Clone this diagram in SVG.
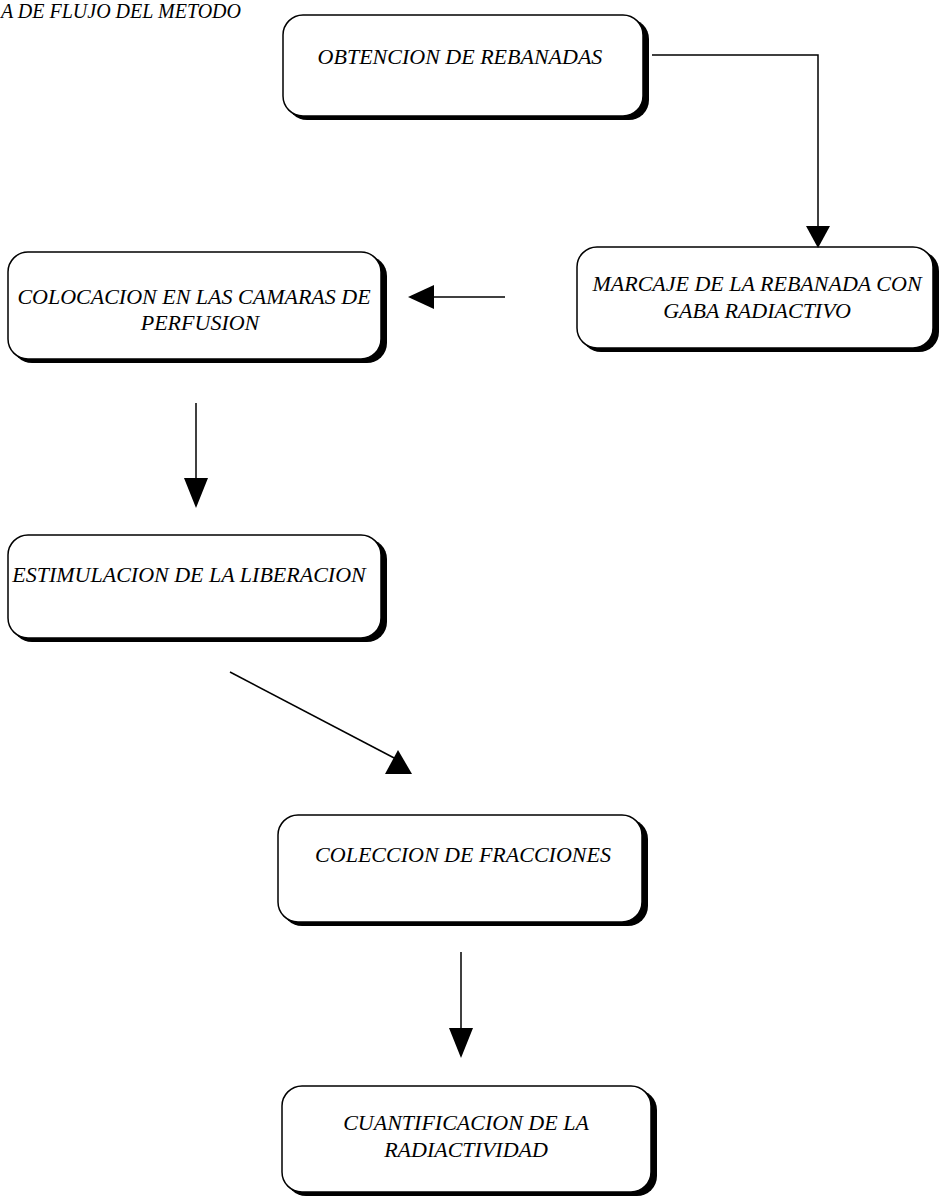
<svg xmlns="http://www.w3.org/2000/svg" width="942" height="1198" viewBox="0 0 942 1198">
<defs>
<style>
.shadow{fill:#000;}
.box{fill:#fff;stroke:#000;stroke-width:1.5;}
.lbl{font-family:"Liberation Serif",serif;font-style:italic;font-size:22px;fill:#000;text-anchor:middle;}
.title{font-family:"Liberation Serif",serif;font-style:italic;font-size:20px;fill:#000;}
.conn{fill:none;stroke:#000;stroke-width:1.5;}
.head{fill:#000;}
</style>
</defs>
<rect width="942" height="1198" fill="#fff"/>
<text class="title" x="1" y="18">A DE FLUJO DEL METODO</text>

<g id="n1">
<rect class="shadow" x="287" y="19" width="362" height="101" rx="20"/>
<rect class="box" x="283" y="15" width="360" height="101" rx="20"/>
<text class="lbl" x="460" y="64">OBTENCION DE REBANADAS</text>
</g>

<g id="n2">
<rect class="shadow" x="581" y="251" width="358" height="101" rx="20"/>
<rect class="box" x="577" y="247" width="356" height="101" rx="20"/>
<text class="lbl" x="757" y="291">MARCAJE DE LA REBANADA CON</text>
<text class="lbl" x="757" y="318">GABA RADIACTIVO</text>
</g>

<g id="n3">
<rect class="shadow" x="12" y="256" width="375" height="107" rx="20"/>
<rect class="box" x="8" y="252" width="373" height="107" rx="20"/>
<text class="lbl" x="194" y="304">COLOCACION EN LAS CAMARAS DE</text>
<text class="lbl" x="200" y="330">PERFUSION</text>
</g>

<g id="n4">
<rect class="shadow" x="12" y="539" width="375" height="103" rx="20"/>
<rect class="box" x="8" y="535" width="373" height="103" rx="20"/>
<text class="lbl" x="189" y="582">ESTIMULACION DE LA LIBERACION</text>
</g>

<g id="n5">
<rect class="shadow" x="282" y="819" width="366" height="107" rx="20"/>
<rect class="box" x="278" y="815" width="364" height="107" rx="20"/>
<text class="lbl" x="463" y="862">COLECCION DE FRACCIONES</text>
</g>

<g id="n6">
<rect class="shadow" x="286" y="1090" width="371" height="106" rx="20"/>
<rect class="box" x="282" y="1086" width="369" height="106" rx="20"/>
<text class="lbl" x="466" y="1130">CUANTIFICACION DE LA</text>
<text class="lbl" x="466" y="1157">RADIACTIVIDAD</text>
</g>

<g id="connectors">
<polyline class="conn" points="652,55 818,55 818,228"/>
<polygon class="head" points="806,226 830,226 818,248"/>
<line class="conn" x1="505" y1="297" x2="425" y2="297"/>
<polygon class="head" points="408,297 434,285 434,309"/>
<line class="conn" x1="196" y1="403" x2="196" y2="480"/>
<polygon class="head" points="184,478 208,478 196,508"/>
<line class="conn" x1="230" y1="672" x2="398" y2="760"/>
<polygon class="head" points="398,750 385,774 412,774"/>
<line class="conn" x1="461" y1="952" x2="461" y2="1030"/>
<polygon class="head" points="449,1028 473,1028 461,1058"/>
</g>
</svg>
